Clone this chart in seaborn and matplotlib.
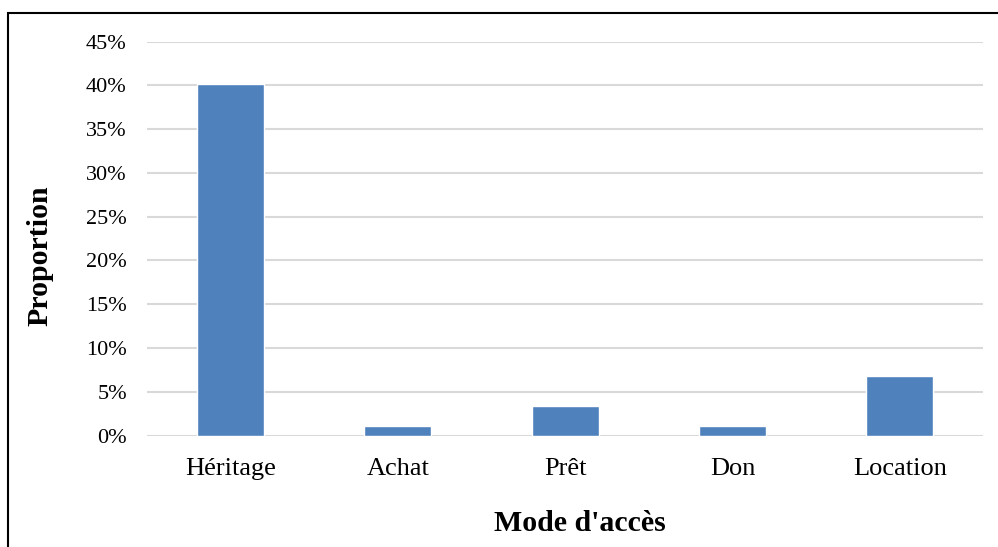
import pandas as pd
import matplotlib.pyplot as plt
import matplotlib.patches as patches
import seaborn as sns

# Données
modes = ['Héritage', 'Achat', 'Prêt', 'Don', 'Location']
proportions = [40.2, 1.1, 3.4, 1.1, 6.8]
yticks = [0, 5, 10, 15, 20, 25, 30, 35, 40, 45]

df = pd.DataFrame({'mode': modes, 'proportion': proportions})

sns.set_style('white')
plt.rcParams['font.family'] = ['Liberation Serif', 'DejaVu Serif']

fig = plt.figure(figsize=(9.98, 5.47), dpi=100)
ax = fig.add_axes([0.1473, 0.2038, 0.838, 0.72])

sns.barplot(data=df, x='mode', y='proportion', color='#4F81BD',
            width=0.4, saturation=1, ax=ax)

ax.set_ylim(0, 45)
ax.set_xlim(-0.5, 4.5)
ax.set_yticks(yticks)
ax.set_yticklabels([f'{t}%' for t in yticks])
ax.yaxis.grid(True, color='#D9D9D9', linewidth=1.5)
ax.set_axisbelow(True)
for s in ax.spines.values():
    s.set_visible(False)
ax.tick_params(axis='both', length=0, colors='black')
ax.tick_params(axis='y', pad=14.5, labelsize=16)
ax.tick_params(axis='x', pad=16, labelsize=19)

ax.set_xlabel("Mode d'accès", fontsize=21.5, fontweight='bold', color='black')
ax.set_ylabel('Proportion', fontsize=21.5, fontweight='bold', color='black')
ax.xaxis.set_label_coords(0.518, -0.188)
ax.yaxis.set_label_coords(-0.112, 0.456)

# cadre autour du graphique
fig.patches.append(patches.Rectangle((0.008, -0.1), 2, 0.976 + 0.1,
                                     transform=fig.transFigure, fill=False,
                                     edgecolor='black', linewidth=1.5))

plt.savefig('out.png', dpi=100)
